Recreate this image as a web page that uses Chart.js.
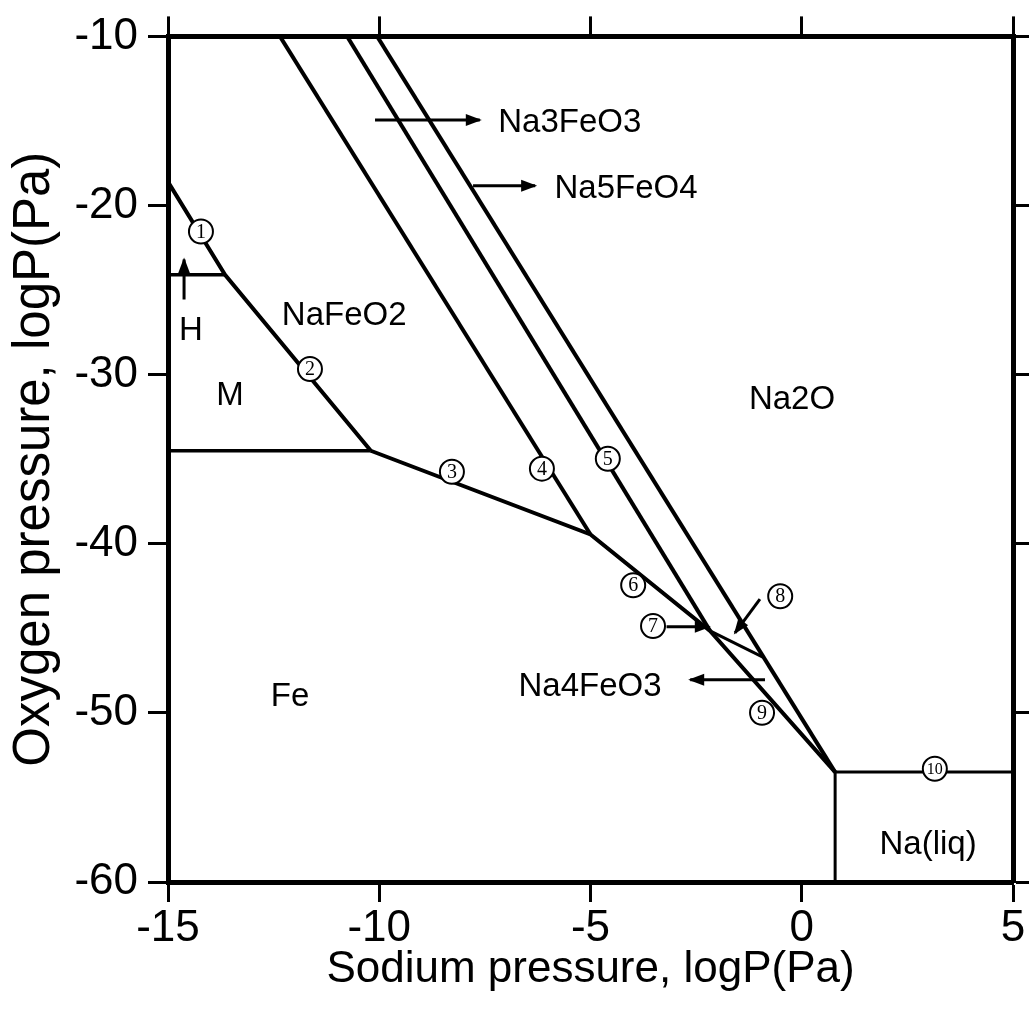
<!DOCTYPE html>
<html>
<head>
<meta charset="utf-8">
<script src="https://cdn.jsdelivr.net/npm/chart.js@4.4.1/dist/chart.umd.min.js"></script>
<style>
  html, body { margin: 0; padding: 0; background: #fff; }
  #wrap { width: 1029px; height: 1022px; }
</style>
</head>
<body>
<div id="wrap"><canvas id="chart"></canvas></div>
<script>
// axis ticks
const xTicks = [-15, -10, -5, 0, 5];
const yTicks = [-10, -20, -30, -40, -50, -60];

// phase boundaries: x = log P(Na), y = log P(O2)
const hLineX = [-15, -13.65];
const hLineY = [-24.1, -24.1];
const naFeO2LineX = [-15, -13.65, -10.2];
const naFeO2LineY = [-18.6, -24.1, -34.5];
const mLineX = [-15, -10.2];
const mLineY = [-34.5, -34.5];
const feLineX = [-10.2, -5.0, -2.17, 0.79];
const feLineY = [-34.5, -39.45, -45.15, -53.5];
const line4X = [-12.35, -5.0];
const line4Y = [-10, -39.45];
const line5X = [-10.76, -2.17];
const line5Y = [-10, -45.15];
const na2oLineX = [-10.05, 0.79];
const na2oLineY = [-10, -53.5];
const line8X = [-2.17, -0.92];
const line8Y = [-45.15, -46.7];
const naLiqX = [0.79, 5];
const naLiqY = [-53.5, -53.5];
const naLiqWallX = [0.79, 0.79];
const naLiqWallY = [-53.5, -60];

// circled numbers on the boundaries
const markNums = ["1", "2", "3", "4", "5", "6", "7", "8", "9", "10"];
const markX = [-14.22, -11.64, -8.28, -6.15, -4.59, -3.99, -3.52, -0.51, -0.94, 3.15];
const markY = [-21.54, -29.67, -35.74, -35.56, -34.97, -42.45, -44.86, -43.1, -49.99, -53.3];

// region names
const regionNames = ["Na3FeO3", "Na5FeO4", "NaFeO2", "H", "M", "Na2O", "Fe", "Na4FeO3", "Na(liq)"];
const regionX = [-5.49, -4.16, -10.83, -14.46, -13.53, -0.23, -12.11, -5.01, 2.99];
const regionY = [-14.95, -18.83, -26.37, -27.26, -31.08, -31.32, -48.87, -48.28, -57.64];

// pointer arrows (start -> tip)
const arrowX0 = [-10.1, -7.78, -14.62, -0.87, -3.2, -0.99];
const arrowY0 = [-14.95, -18.83, -25.55, -48.04, -44.9, -43.27];
const arrowX1 = [-7.62, -6.31, -14.62, -2.64, -2.2, -1.58];
const arrowY1 = [-14.95, -18.83, -23.19, -48.04, -44.9, -45.27];

const FONT = "'Liberation Sans', Arial, sans-serif";

const toPoints = (xs, ys) => xs.map((x, i) => ({ x: x, y: ys[i] }));

const boundary = (xs, ys, width = 4) => ({
   data: toPoints(xs, ys),
   showLine: true,
   borderColor: "#000",
   borderWidth: width,
   pointRadius: 0,
   order: 2,
});

const datasets = [
   boundary(hLineX, hLineY, 3.5),
   boundary(naFeO2LineX, naFeO2LineY),
   boundary(mLineX, mLineY, 3.5),
   boundary(feLineX, feLineY),
   boundary(line4X, line4Y),
   boundary(line5X, line5Y),
   boundary(na2oLineX, na2oLineY),
   boundary(line8X, line8Y, 3),
   boundary(naLiqX, naLiqY, 3),
   boundary(naLiqWallX, naLiqWallY, 3),
];

arrowX0.forEach((x0, i) => {
   const ds = boundary([x0, arrowX1[i]], [arrowY0[i], arrowY1[i]], 3);
   ds.arrow = true;
   datasets.push(ds);
});

datasets.push({
   data: toPoints(markX, markY),
   showLine: false,
   pointRadius: 12,
   pointBackgroundColor: "#fff",
   pointBorderColor: "#000",
   pointBorderWidth: 2,
   order: 0,
});

const overlay = {
   id: "overlay",
   afterDatasetsDraw(chart) {
      const { ctx } = chart;
      const sx = chart.scales.x;
      const sy = chart.scales.y;
      ctx.save();
      ctx.fillStyle = "#000";

      // arrow heads
      chart.data.datasets.forEach((ds) => {
         if (!ds.arrow) return;
         const a = ds.data[0];
         const b = ds.data[1];
         const x0 = sx.getPixelForValue(a.x);
         const y0 = sy.getPixelForValue(a.y);
         const x1 = sx.getPixelForValue(b.x);
         const y1 = sy.getPixelForValue(b.y);
         const ang = Math.atan2(y1 - y0, x1 - x0);
         const len = 14;
         const half = 6;
         const c = Math.cos(ang);
         const s = Math.sin(ang);
         ctx.beginPath();
         ctx.moveTo(x1 + 2 * c, y1 + 2 * s);
         ctx.lineTo(x1 - len * c + half * s, y1 - len * s - half * c);
         ctx.lineTo(x1 - len * c - half * s, y1 - len * s + half * c);
         ctx.closePath();
         ctx.fill();
      });

      // numbers inside the circles
      ctx.textAlign = "center";
      ctx.textBaseline = "middle";
      markNums.forEach((n, i) => {
         ctx.font = (n.length > 1 ? "16px " : "20px ") + "'Liberation Serif', serif";
         ctx.fillText(n, sx.getPixelForValue(markX[i]), sy.getPixelForValue(markY[i]) + 1);
      });

      // region labels
      ctx.font = "33px " + FONT;
      ctx.textBaseline = "alphabetic";
      regionNames.forEach((t, i) => {
         ctx.fillText(t, sx.getPixelForValue(regionX[i]), sy.getPixelForValue(regionY[i]) + 12);
      });
      ctx.restore();
   },
};

const frameGrid = {
   drawOnChartArea: false,
   drawTicks: true,
   tickLength: 20,
   tickWidth: 3,
   tickColor: "#000",
};
const frameBorder = { display: true, width: 5, color: "#000" };
const tickFont = { family: FONT, size: 44 };

new Chart(document.getElementById("chart"), {
   type: "scatter",
   data: { datasets: datasets },
   options: {
      responsive: true,
      maintainAspectRatio: false,
      animation: false,
      events: [],
      layout: { padding: 0 },
      plugins: { legend: { display: false }, tooltip: { enabled: false } },
      scales: {
         x: {
            type: "linear",
            position: "bottom",
            min: -15,
            max: 5,
            afterBuildTicks: (s) => { s.ticks = xTicks.map((v) => ({ value: v })); },
            afterFit: (s) => { s.height = 140; },
            border: frameBorder,
            grid: frameGrid,
            ticks: { color: "#000", font: tickFont, padding: 0, autoSkip: false, maxRotation: 0 },
            title: {
               display: true,
               text: "Sodium pressure, logP(Pa)",
               color: "#000",
               font: { family: FONT, size: 44 },
               padding: { top: 0, bottom: 26 },
            },
         },
         y: {
            type: "linear",
            position: "left",
            min: -60,
            max: -10,
            afterBuildTicks: (s) => { s.ticks = yTicks.map((v) => ({ value: v })); },
            afterFit: (s) => { s.width = 168; },
            border: frameBorder,
            grid: frameGrid,
            ticks: { color: "#000", font: tickFont, padding: 10, autoSkip: false },
            title: {
               display: true,
               text: "Oxygen pressure, logP(Pa)",
               color: "#000",
               font: { family: FONT, size: 51 },
               padding: { top: 4, bottom: 0 },
            },
         },
         x2: {
            type: "linear",
            position: "top",
            min: -15,
            max: 5,
            afterBuildTicks: (s) => { s.ticks = xTicks.map((v) => ({ value: v })); },
            afterFit: (s) => { s.height = 33; },
            border: frameBorder,
            grid: frameGrid,
            ticks: { display: false },
         },
         y2: {
            type: "linear",
            position: "right",
            min: -60,
            max: -10,
            afterBuildTicks: (s) => { s.ticks = yTicks.map((v) => ({ value: v })); },
            afterFit: (s) => { s.width = 16; },
            border: frameBorder,
            grid: frameGrid,
            ticks: { display: false },
         },
      },
   },
   plugins: [overlay],
});
</script>
</body>
</html>
